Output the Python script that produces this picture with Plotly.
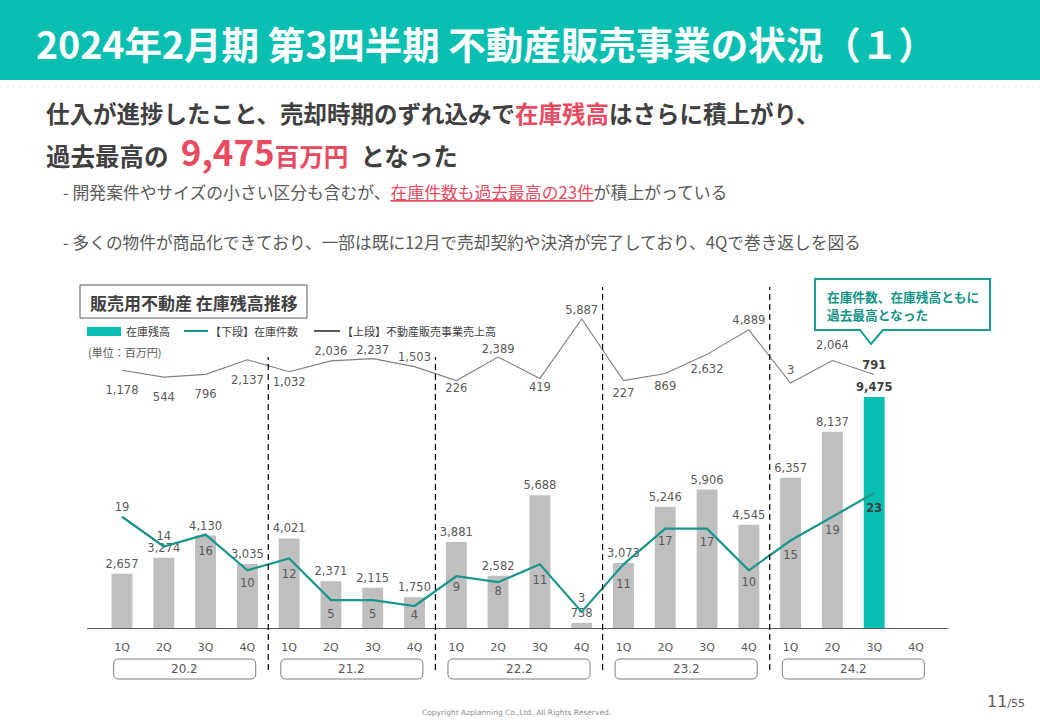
import plotly.graph_objects as go

# ---------------- data ----------------
quarters = ["1Q", "2Q", "3Q", "4Q"] * 5
fiscal_years = ["20.2", "21.2", "22.2", "23.2", "24.2"]
inventory_balance = [2657, 3274, 4130, 3035, 4021, 2371, 2115, 1750, 3881, 2582,
                     5688, 758, 3073, 5246, 5906, 4545, 6357, 8137, 9475]
inventory_count = [19, 14, 16, 10, 12, 5, 5, 4, 9, 8, 11, 3, 11, 17, 17, 10, 15, 19, 23]
segment_sales = [1178, 544, 796, 2137, 1032, 2036, 2237, 1503, 226, 2389, 419, 5887,
                 227, 869, 2632, 4889, 3, 2064, 791]

# ---------------- style ----------------
W, H = 1040, 720
JP = "Noto Sans CJK JP"
NUM = "DejaVu Sans"
TEAL = "#0ABFB1"
TEAL_LINE = "#1A968C"
GRAY_BAR = "#BFBFBF"
RED = "#E84A5F"
DARK = "#404040"
MID = "#595959"


def px(x):
    return x / W


def py(y):
    return 1 - y / H


n = len(inventory_balance)
xs = list(range(n))

bar_colors = [GRAY_BAR] * (n - 1) + [TEAL]
bar_text = [f"{v:,}" for v in inventory_balance]
bar_text[-1] = f"<b>{bar_text[-1]}</b>"
bar_text_colors = [MID] * (n - 1) + [DARK]

cnt_text = [str(v) for v in inventory_count]
cnt_text[-1] = f"<b>{cnt_text[-1]}</b>"
cnt_pos = ["bottom center"] * n
for i in (0, 1, 11):
    cnt_pos[i] = "top center"
cnt_size = [3.2, 4.8, 16.8, 12, 15.2, 13.6, 13.6, 5.6, 8.8, 5.6, 16, 9.6,
            22, 11.5, 13, 9.4, 14.2, 12.5, 15.2]
cnt_colors = [MID] * (n - 1) + [DARK]

sales_text = [f"{v:,}" for v in segment_sales]
sales_text[-1] = f"<b>{sales_text[-1]}</b>"
below = {0, 1, 2, 3, 4, 8, 10, 12, 13, 14}
sales_pos = ["bottom center" if i in below else "top center" for i in range(n)]
sales_size = [23, 23, 23, 23, 7.2, 3.2, 1, 3.2, 2.4, 1, 4, 1, 10.4, 10.4, 15.2,
              3.2, 8, 12.8, 2.4]
sales_colors = [MID] * (n - 1) + [DARK]

fig = go.Figure()

fig.add_trace(go.Bar(
    x=xs, y=inventory_balance, name="在庫残高",
    marker=dict(color=bar_colors, line=dict(width=0)),
    width=0.5,
    text=bar_text, textposition="outside", textangle=0,
    constraintext="none", cliponaxis=False,
    textfont=dict(family=NUM, size=11.5, color=bar_text_colors),
    yaxis="y",
))

fig.add_trace(go.Scatter(
    x=xs, y=inventory_count, name="【下段】在庫件数",
    mode="lines+markers+text",
    line=dict(color=TEAL_LINE, width=2.2),
    marker=dict(size=cnt_size, color="rgba(0,0,0,0)", line=dict(width=0)),
    text=cnt_text, textposition=cnt_pos,
    textfont=dict(family=NUM, size=11.5, color=cnt_colors),
    cliponaxis=False,
    yaxis="y2",
))

fig.add_trace(go.Scatter(
    x=xs, y=segment_sales, name="【上段】不動産販売事業売上高",
    mode="lines+markers+text",
    line=dict(color="#808080", width=1.1),
    marker=dict(size=sales_size, color="rgba(0,0,0,0)", line=dict(width=0)),
    text=sales_text, textposition=sales_pos,
    textfont=dict(family=NUM, size=11.5, color=sales_colors),
    cliponaxis=False,
    yaxis="y3",
))

# ---------------- shapes ----------------
shapes = []
# header band
shapes.append(dict(type="rect", xref="paper", yref="paper", x0=0, x1=1, y0=py(80), y1=1,
                   fillcolor=TEAL, line=dict(width=0), layer="below"))
shapes.append(dict(type="line", xref="paper", yref="paper", x0=0, x1=1, y0=py(87), y1=py(87),
                   line=dict(color="#E8E8E8", width=1, dash="dot")))
# chart title box
shapes.append(dict(type="rect", xref="paper", yref="paper", x0=px(80), x1=px(307),
                   y0=py(318), y1=py(285), line=dict(color=MID, width=1), fillcolor="white"))
# custom legend
shapes.append(dict(type="rect", xref="paper", yref="paper", x0=px(87), x1=px(121),
                   y0=py(336), y1=py(327), fillcolor=TEAL, line=dict(width=0)))
shapes.append(dict(type="line", xref="paper", yref="paper", x0=px(184), x1=px(208),
                   y0=py(331), y1=py(331), line=dict(color=TEAL_LINE, width=2)))
shapes.append(dict(type="line", xref="paper", yref="paper", x0=px(314), x1=px(340),
                   y0=py(331), y1=py(331), line=dict(color=MID, width=2)))
# fiscal-year separators
for k in range(1, len(fiscal_years)):
    top = 357 if k <= 2 else 287
    shapes.append(dict(type="line", xref="x", yref="paper", x0=4 * k - 0.5, x1=4 * k - 0.5,
                       y0=py(670), y1=py(top),
                       line=dict(color="black", width=1.2, dash="6px,4px")))
# rounded fiscal-year boxes
rx, ry = 0.12, 5 / H
yb, yt = py(679), py(659)
for k in range(len(fiscal_years)):
    x0, x1 = 4 * k - 0.2, 4 * k + 3.2
    path = (f"M {x0 + rx},{yb} L {x1 - rx},{yb} Q {x1},{yb} {x1},{yb + ry} "
            f"L {x1},{yt - ry} Q {x1},{yt} {x1 - rx},{yt} L {x0 + rx},{yt} "
            f"Q {x0},{yt} {x0},{yt - ry} L {x0},{yb + ry} Q {x0},{yb} {x0 + rx},{yb} Z")
    shapes.append(dict(type="path", xref="x", yref="paper", path=path,
                       line=dict(color="#7F7F7F", width=1)))
# callout
cpath = (f"M {px(815)},{py(279)} L {px(990)},{py(279)} L {px(990)},{py(330)} "
         f"L {px(883)},{py(330)} L {px(871)},{py(344)} L {px(860)},{py(330)} "
         f"L {px(815)},{py(330)} Z")
shapes.append(dict(type="path", xref="paper", yref="paper", path=cpath,
                   fillcolor="white", line=dict(color="#16A091", width=2)))

# ---------------- annotations ----------------
ann = []


def note(text, x, y, size, color=DARK, family=JP, xanchor="left", yanchor="middle",
         xref="paper", weight="normal", align="left"):
    ann.append(dict(text=text, x=x, y=y, xref=xref, yref="paper", showarrow=False,
                    xanchor=xanchor, yanchor=yanchor, align=align,
                    font=dict(family=family, size=size, color=color, weight=weight)))


note("2024年2月期 第3四半期 不動産販売事業の状況（１）", px(34), py(42), 37.5,
     color="white", weight="bold")
note(f"仕入が進捗したこと、売却時期のずれ込みで<span style='color:{RED}'>在庫残高</span>"
     "はさらに積上がり、", px(44), py(113), 23.5, color=DARK, weight="bold")
note(f"過去最高の\u2002<span style='font-size:35px;color:{RED}'>{inventory_balance[-1]:,}</span>"
     f"<span style='color:{RED}'>百万円</span>\u2002となった", px(44), py(150), 24.5,
     color=DARK, weight="bold")
note(f"- 開発案件やサイズの小さい区分も含むが、<span style='color:{RED}'>"
     f"<u>在庫件数も過去最高の{inventory_count[-1]}件</u></span>が積上がっている",
     px(61), py(192), 16.8, color=MID)
note("- 多くの物件が商品化できており、一部は既に12月で売却契約や決済が完了しており、4Qで巻き返しを図る",
     px(61), py(242), 16.7, color=MID)

note("販売用不動産 在庫残高推移", px(88), py(302), 17, color=DARK, weight="bold")
note("在庫残高", px(124), py(331), 11, color=DARK)
note("【下段】在庫件数", px(208), py(331), 11, color=DARK)
note("【上段】不動産販売事業売上高", px(340), py(331), 11, color=DARK)
note("(単位：百万円)", px(86), py(352), 11, color=MID)

note("在庫件数、在庫残高ともに", px(825), py(296), 12.7, color="#15958A", weight="bold")
note("過去最高となった", px(825), py(314), 12.7, color="#15958A", weight="bold")

for k, fy in enumerate(fiscal_years):
    note(fy, 4 * k + 1.5, py(669), 12, color=MID, family=NUM, xanchor="center", xref="x")

note("11<span style='font-size:11px'>/55</span>", px(1027), py(701), 16, color=MID,
     family=NUM, xanchor="right")
note("Copyright Azplanning Co.,Ltd. All Rights Reserved.", px(516), py(712), 7.5,
     color="#8C8C8C", family=NUM, xanchor="center")

# ---------------- layout ----------------
ppx = (916 - 122) / 19
fig.update_layout(
    width=W, height=H, autosize=False,
    margin=dict(l=0, r=0, t=0, b=0, pad=0),
    paper_bgcolor="white", plot_bgcolor="white",
    showlegend=False,
    shapes=shapes, annotations=ann,
    bargap=0.5,
    xaxis=dict(domain=[px(87), px(948)],
               range=[-(122 - 87) / ppx, (n) + (948 - 916) / ppx],
               tickmode="array", tickvals=list(range(len(quarters))), ticktext=quarters,
               showgrid=False, zeroline=False, showline=True, linecolor=MID, linewidth=1,
               ticks="", ticklabelstandoff=9,
               tickfont=dict(family=NUM, size=11, color=MID), fixedrange=True),
    yaxis=dict(domain=[py(628), py(280)], range=[565, 565 + 348 / 0.025926],
               visible=False, fixedrange=True),
    yaxis2=dict(overlaying="y", anchor="x", range=[0.3, 0.3 + 348 / 5.95],
                visible=False, fixedrange=True),
    yaxis3=dict(overlaying="y", anchor="x", range=[-(628 - 383) / 0.010877, (383 - 280) / 0.010877],
                visible=False, fixedrange=True),
)

fig.write_html(
    "out.html",
    config={"displayModeBar": False},
    post_script="document.body.style.margin='0px';document.body.style.padding='0px';"
                "document.body.style.overflow='hidden';",
)
